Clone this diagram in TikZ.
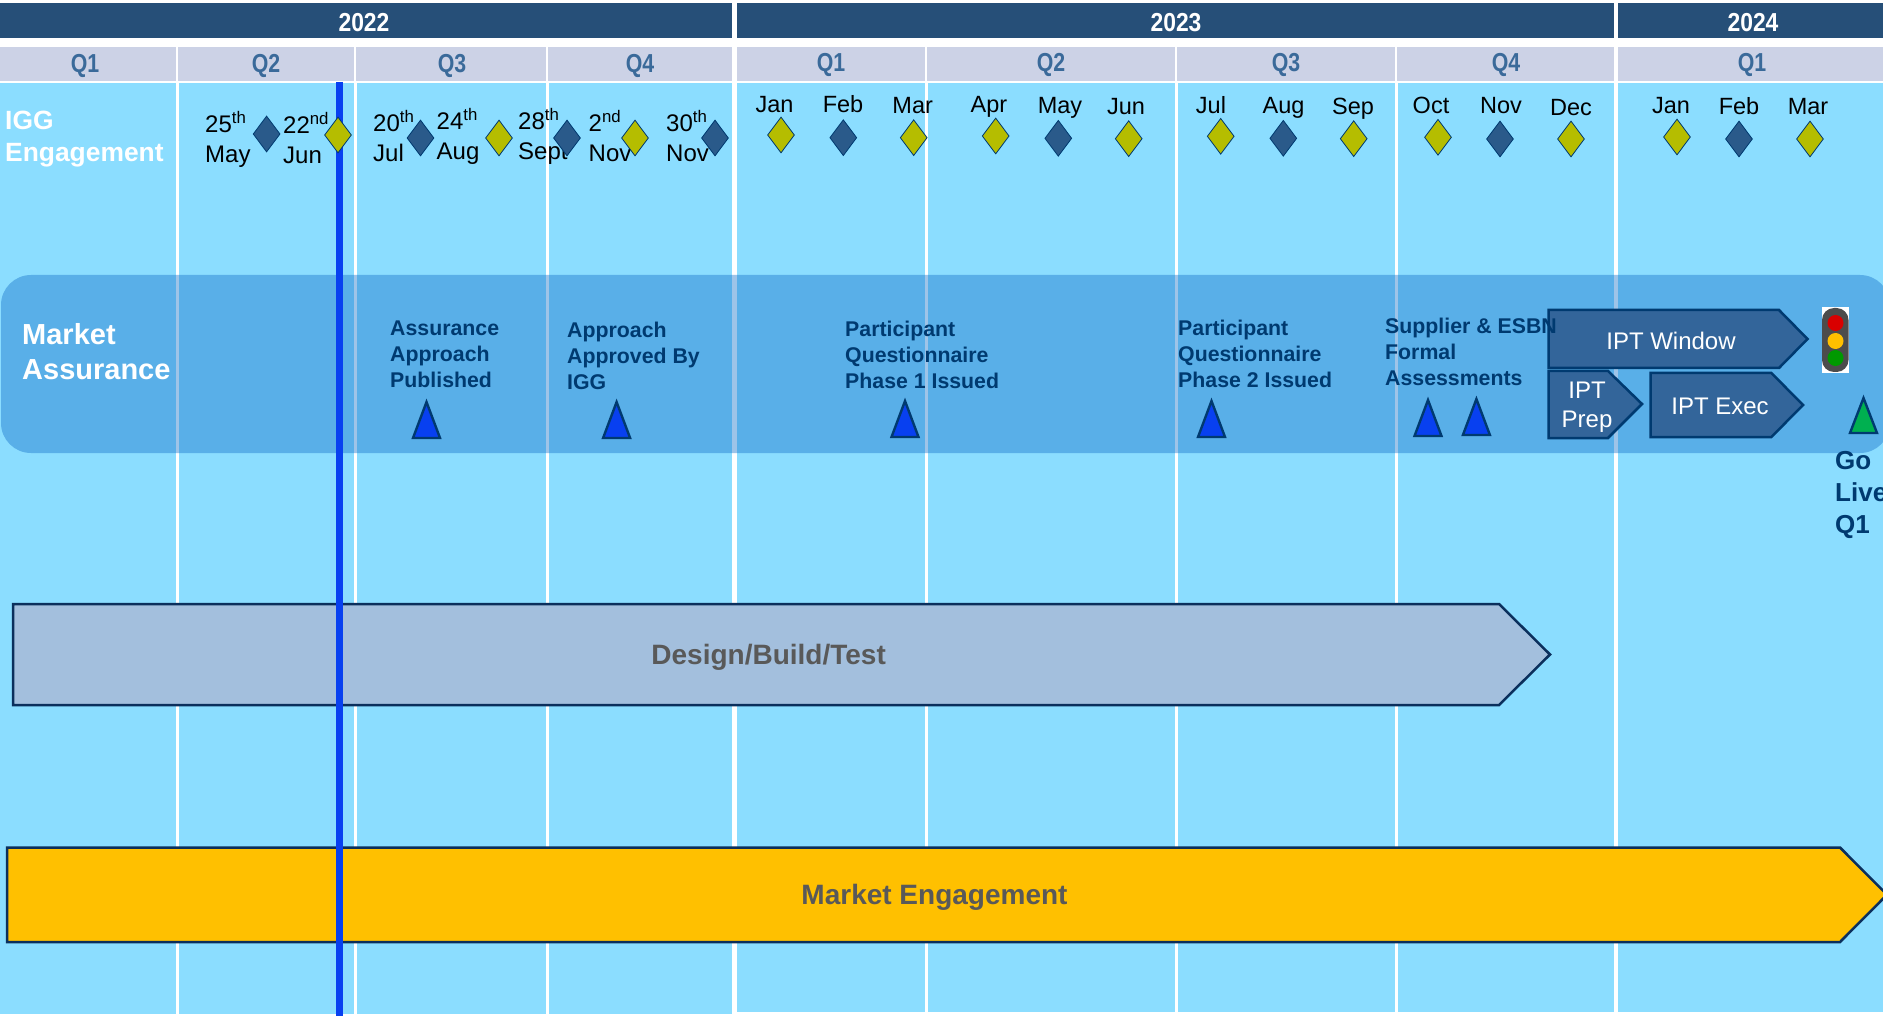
\documentclass[tikz,border=0pt]{standalone}
\usepackage{fontspec}
\setmainfont{Liberation Sans}
\newfontfamily\narrowfont[FakeStretch=0.82]{Liberation Sans}
\newfontfamily\yearfont[FakeStretch=0.88]{Liberation Sans}
\usepackage{tikz}
\usetikzlibrary{shapes.geometric}
\definecolor{yearblue}{HTML}{264F78}
\definecolor{quartergrey}{HTML}{CCD2E6}
\definecolor{quartertext}{HTML}{3A6A9A}
\definecolor{sky}{HTML}{8BDDFF}
\definecolor{bandblue}{HTML}{0E6CC6}
\definecolor{navy}{HTML}{003A70}
\definecolor{barline}{HTML}{0B2F5C}
\definecolor{olive}{HTML}{B5BD00}
\definecolor{gatedark}{HTML}{2A5A8A}
\definecolor{todayblue}{HTML}{0840F0}
\definecolor{stepblue}{HTML}{33659A}
\definecolor{designblue}{HTML}{A3BFDD}
\definecolor{amber}{HTML}{FFC000}
\definecolor{bartext}{HTML}{595959}
\definecolor{gogreen}{HTML}{00B050}
\tikzset{
  yeartext/.style={font=\yearfont\bfseries\fontsize{26}{30}\selectfont, text=white, inner sep=0pt},
  quartertxt/.style={font=\narrowfont\bfseries\fontsize{26}{30}\selectfont, text=quartertext, inner sep=0pt},
  gate/.style={diamond, draw=navy, line width=.8pt, inner sep=0pt, minimum width=27pt, minimum height=36pt},
  gate dark/.style={gate, fill=gatedark},
  gate olive/.style={gate, fill=olive},
  datetext/.style={font=\fontsize{24}{30}\selectfont, align=left, anchor=west, inner sep=0pt},
  monthtext/.style={font=\fontsize{23.5}{30}\selectfont, anchor=base, inner sep=0pt},
  milestone/.style={font=\bfseries\fontsize{21.3}{26}\selectfont, text=navy, align=left, anchor=west, inner sep=0pt},
  headtext/.style={font=\bfseries\fontsize{#1}{32}\selectfont, text=white, align=left, anchor=west, inner sep=0pt},
  steptext/.style={font=\fontsize{24}{29}\selectfont, text=white, align=center, inner sep=0pt},
  bartxt/.style={font=\bfseries\fontsize{28}{32}\selectfont, text=bartext, inner sep=0pt},
  stepshape/.style={fill=stepblue, draw=navy, line width=2.5pt, line join=miter},
  barshape/.style={draw=barline, line width=2.5pt},
  tri blue/.style={line width=2.4pt, draw=navy, fill=todayblue},
  tri green/.style={line width=2.4pt, draw=navy, fill=gogreen}
}
\begin{document}
\begin{tikzpicture}[x=1pt,y=-1pt]
  \useasboundingbox (0,0) rectangle (1883,1016);
  \fill[white] (0,0) rectangle (1883,1016);

  \fill[sky] (0,83) rectangle (732,1014);
  \fill[sky] (737,83) rectangle (1614,1012);
  \fill[sky] (1618,83) rectangle (1883,1012);
  \foreach \x in {177,355.5,547,926,1176,1396} {
    \draw[white,line width=3pt] (\x,83) -- (\x,1014);
  }

  \foreach \a/\b/\c/\t [count=\i] in {0/732/364/2022,737/1614/1176/2023,1618/1883/1753/2024} {
    \fill[yearblue] (\a,3) rectangle (\b,38);
    \node[yeartext] (year\i) at (\c,23) {\t};
  }
  \foreach \a/\b/\c/\y/\t [count=\i] in {0/176/85/66/Q1,178/354/266/66/Q2,356/546/452/66/Q3,548/732/640/66/Q4,737/925/831/65/Q1,927/1175/1051/65/Q2,1177/1395/1286/65/Q3,1397/1614/1506/65/Q4,1618/1883/1752/65/Q1} {
    \fill[quartergrey] (\a,47) rectangle (\b,81);
    \node[quartertxt] (quarter\i) at (\c,\y) {\t};
  }

  \node[headtext=26.4] (igg) at (5,139) {IGG\\Engagement};

  \foreach \x/\y/\d/\m [count=\i] in {205/139/25\textsuperscript{th}/May,283/138/22\textsuperscript{nd}/Jun,373/136/20\textsuperscript{th}/Jul,436.5/136/24\textsuperscript{th}/Aug,518/136/28\textsuperscript{th}/Sept,588.5/136/2\textsuperscript{nd}/Nov,666/136/30\textsuperscript{th}/Nov} {
    \node[datetext] (date\i) at (\x,\y) {\d\\\m};
  }
  \foreach \t/\x/\y [count=\i] in {Jan/774.5/113,Feb/843/113,Mar/912.7/114,Apr/989/113,May/1060/114,Jun/1126/115,Jul/1211/114,Aug/1283.5/114,Sep/1353/115,Oct/1431/114,Nov/1501/114,Dec/1571/116,Jan/1671/114,Feb/1739/115,Mar/1808/115} {
    \node[monthtext] (month\i) at (\x,\y) {\t};
  }

  \fill[bandblue,opacity=.4,rounded corners=30pt] (1,275) rectangle (1890,453);
  \draw[todayblue,line width=7pt] (339.7,82) -- (339.7,453);

  \node[headtext=29] (assurance) at (22,352) {Market\\[3pt]Assurance};
  \node[milestone] (m1) at (390,354) {Assurance\\Approach\\Published};
  \node[milestone] (m2) at (567,356) {Approach\\Approved By\\IGG};
  \node[milestone] (m3) at (845,355) {Participant\\Questionnaire\\Phase 1 Issued};
  \node[milestone] (m4) at (1178,354) {Participant\\Questionnaire\\Phase 2 Issued};

  \foreach \x/\y in {426.5/419,616.6/419,905/418,1211.5/418,1428/417,1476.4/416} {
    \draw[tri blue] (\x-13.5,\y+19) -- (\x,\y-17) -- (\x+13.5,\y+19) -- cycle;
  }
  \draw[tri green] (1850,433) -- (1863.5,398) -- (1877,433) -- cycle;

  \draw[stepshape] (1548.5,310) -- (1779,310) -- (1807.5,339) -- (1779,368) -- (1548.5,368) -- cycle;
  \node[steptext] (window) at (1671,341) {IPT Window};
  \draw[stepshape] (1548.5,371) -- (1608,371) -- (1642,404) -- (1608,438) -- (1548.5,438) -- cycle;
  \node[steptext] (prep) at (1587,407) {IPT\\Prep};
  \draw[stepshape] (1650.6,373) -- (1771.4,373) -- (1803,405) -- (1771.4,437) -- (1650.6,437) -- cycle;
  \node[steptext] (exec) at (1720,406) {IPT Exec};
  \node[milestone] (m5) at (1385,352) {Supplier \& ESBN\\Formal\\Assessments};

  \fill[white] (1822,307) rectangle (1848.5,373);
  \fill[black!70,rounded corners=12pt] (1822,308) rectangle (1848.5,372);
  \fill[red!85!black] (1835.5,323) circle [radius=8];
  \fill[amber] (1835.5,341) circle [radius=8];
  \fill[green!60!black] (1835.5,358) circle [radius=8];

  \node[headtext=26, text=navy] (golive) at (1835,495) {Go\\Live\\Q1};

  \draw[fill=designblue,barshape] (13,604) -- (1499,604) -- (1550,654.5) -- (1499,705) -- (13,705) -- cycle;
  \node[bartxt] (design) at (768.6,657.5) {Design/Build/Test};
  \draw[fill=amber,barshape] (7,847.5) -- (1840,847.5) -- (1887,894.7) -- (1840,942) -- (7,942) -- cycle;
  \node[bartxt] (engagement) at (934.5,897.5) {Market Engagement};

  \draw[todayblue,line width=7pt] (339.7,453) -- (339.7,1016);

  \foreach \x/\y/\k [count=\i] in {266.6/134/dark,338/135/olive,420.5/138/dark,499/138/olive,567/138/dark,635/138/olive,715/138/dark,781/135/olive,843.3/137.7/dark,913.7/137.7/olive,995.7/136/olive,1058.3/138.3/dark,1128.7/138.7/olive,1220.7/136.3/olive,1283.3/138.3/dark,1353.7/138.7/olive,1438/137.3/olive,1500/139/dark,1571/139/olive,1677/137/olive,1739/139/dark,1810/139/olive} {
    \node[gate \k] (gate\i) at (\x,\y) {};
  }
\end{tikzpicture}
\end{document}
